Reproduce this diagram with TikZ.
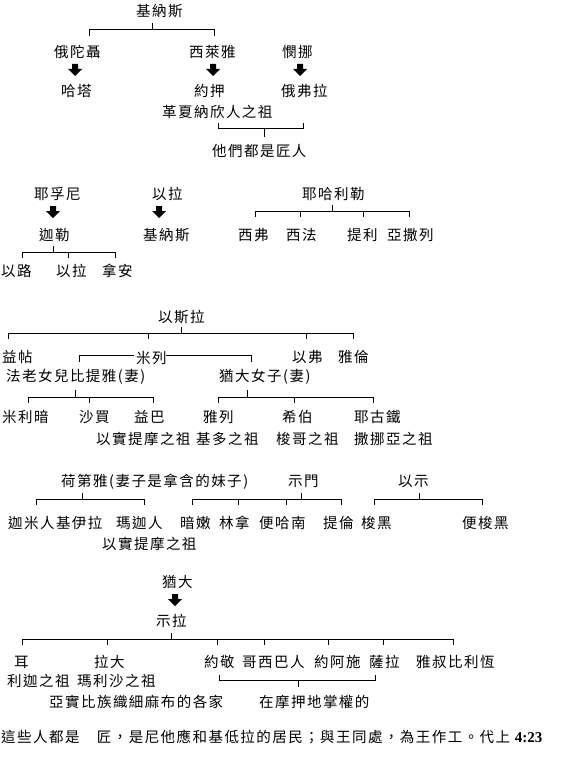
\documentclass[tikz,border=0pt]{standalone}
\usepackage{fontspec}
\newfontfamily\cjkfont[LetterSpace=10]{Noto Sans CJK TC}
\newfontfamily\numfont{Liberation Serif}
\newcommand{\hp}[1]{\makebox[8pt][c]{#1}}
\tikzset{
  t/.style={anchor=base west, inner sep=0pt, font=\cjkfont\fontsize{14.5}{16}\selectfont},
  br/.style={line width=1pt},
  darrow/.pic={\fill (-3,0) -- (3,0) -- (3,5) -- (7,5) -- (0,12) -- (-7,5) -- (-3,5) -- cycle;}
}
\begin{document}
\begin{tikzpicture}[x=1pt,y=-1pt]
\useasboundingbox (0,0) rectangle (575,776);
% ---------- section 1
\node[t] (n1) at (136,16.5) {基納斯};
\node[t] (n2) at (54,57.5) {俄陀聶};
\node[t] (n3) at (189,57.5) {西萊雅};
\node[t] (n4) at (282,57.5) {憫挪};
\node[t] (n5) at (61,96.5) {哈塔};
\node[t] (n6) at (194,96.5) {約押};
\node[t] (n7) at (281,96.5) {俄弗拉};
\node[t] (n8) at (162,117.5) {革夏納欣人之祖};
\node[t] (n9) at (212,156.5) {他們都是匠人};
\draw[br] (152,23) -- (152,30) (89,36) -- (89,30) -- (214,30) -- (214,36);
\pic at (75,64) {darrow};
\pic at (213,64) {darrow};
\pic at (300,64) {darrow};
\draw[br] (218,123) -- (218,128) -- (303,128) -- (303,123) (264,128) -- (264,137);
% ---------- section 2
\node[t] (m1) at (34,199.5) {耶孚尼};
\node[t] (m2) at (152,199.5) {以拉};
\node[t] (m3) at (302,199.5) {耶哈利勒};
\node[t] (m4) at (39,240.5) {迦勒};
\node[t] (m5) at (143,240.5) {基納斯};
\node[t] (m6) at (238,240.5) {西弗};
\node[t] (m7) at (286,240.5) {西法};
\node[t] (m8) at (347,240.5) {提利};
\node[t] (m9) at (387,240.5) {亞撒列};
\node[t] (m10) at (1,276.5) {以路};
\node[t] (m11) at (56,276.5) {以拉};
\node[t] (m12) at (102,276.5) {拿安};
\pic at (53,206) {darrow};
\pic at (159,206) {darrow};
\draw[br] (332,205) -- (332,211) (255,217) -- (255,211) -- (409,211) -- (409,217)
  (300,211) -- (300,217) (363,211) -- (363,217);
\draw[br] (53,246) -- (53,252) (22,258) -- (22,252) -- (115,252) -- (115,258)
  (68,252) -- (68,258);
% ---------- section 3
\node[t] (p1) at (158,322.5) {以斯拉};
\node[t] (p2) at (2,362.5) {益帖};
\node[t] (p3) at (136,363.5) {米列};
\node[t] (p4) at (292,362.5) {以弗};
\node[t] (p5) at (338,362.5) {雅倫};
\node[t] (p6) at (6,381.5) {法老女兒比提雅\hp{(}妻\hp{)}};
\node[t] (p7) at (219,381.5) {猶大女子\hp{(}妻\hp{)}};
\node[t] (p8) at (2,422.5) {米利暗};
\node[t] (p9) at (79,422.5) {沙買};
\node[t] (p10) at (134,422.5) {益巴};
\node[t] (p11) at (96,444.5) {以實提摩之祖};
\node[t] (p12) at (203,422.5) {雅列};
\node[t] (p13) at (282,422.5) {希伯};
\node[t] (p14) at (354,422.5) {耶古鐵};
\node[t] (p15) at (196,444.5) {基多之祖};
\node[t] (p16) at (276,444.5) {梭哥之祖};
\node[t] (p17) at (354,444.5) {撒挪亞之祖};
\draw[br] (181,327) -- (181,333) (8,339) -- (8,333) -- (353,333) -- (353,339)
  (148,333) -- (148,339) (306,333) -- (306,339);
\draw[br] (79,362) -- (79,355) -- (134,355) (166,355) -- (251,355) -- (251,362);
\draw[br] (75,390) -- (75,397) (28,403) -- (28,397) -- (153,397) -- (153,403)
  (89,397) -- (89,403);
\draw[br] (247,390) -- (247,397) (218,403) -- (218,397) -- (373,397) -- (373,403)
  (294,397) -- (294,403);
% ---------- section 4
\node[t] (q1) at (61,486.5) {荷第雅\hp{(}妻子是拿含的妹子\hp{)}};
\node[t] (q2) at (288,486.5) {示門};
\node[t] (q3) at (398,486.5) {以示};
\node[t] (q4) at (8,528.5) {迦米人基伊拉};
\node[t] (q5) at (116,528.5) {瑪迦人};
\node[t] (q6) at (102,549.5) {以實提摩之祖};
\node[t] (q7) at (180,528.5) {暗嫩};
\node[t] (q8) at (219,528.5) {林拿};
\node[t] (q9) at (259,528.5) {便哈南};
\node[t] (q10) at (323,528.5) {提倫};
\node[t] (q11) at (361,528.5) {梭黑};
\node[t] (q12) at (462,528.5) {便梭黑};
\draw[br] (82,493) -- (82,499) (36,505) -- (36,499) -- (144,499) -- (144,505);
\draw[br] (301,493) -- (301,499) (192,505) -- (192,499) -- (341,499) -- (341,505)
  (238,499) -- (238,505) (286,499) -- (286,505);
\draw[br] (419,493) -- (419,499) (374,505) -- (374,499) -- (482,499) -- (482,505);
% ---------- section 5
\node[t] (r1) at (162,587.5) {猶大};
\node[t] (r2) at (156,626.5) {示拉};
\node[t] (r3) at (14,667.5) {耳};
\node[t] (r4) at (94,667.5) {拉大};
\node[t] (r5) at (204,667.5) {約敬};
\node[t] (r6) at (242,667.5) {哥西巴人};
\node[t] (r7) at (314,667.5) {約阿施};
\node[t] (r8) at (369,667.5) {薩拉};
\node[t] (r9) at (416,667.5) {雅叔比利恆};
\node[t] (r10) at (7,686.5) {利迦之祖};
\node[t] (r11) at (77,686.5) {瑪利沙之祖};
\node[t] (r12) at (49,707.5) {亞實比族織細麻布的各家};
\node[t] (r13) at (259,707.5) {在摩押地掌權的};
\pic at (175,594) {darrow};
\draw[br] (171,633) -- (171,639) (22,645) -- (22,639) -- (453,639) -- (453,645)
  (107,639) -- (107,645) (217,639) -- (217,645) (264,639) -- (264,645)
  (328,639) -- (328,645) (383,639) -- (383,645);
\draw[br] (219,675) -- (219,680) -- (375,680) -- (375,675) (298,680) -- (298,687);
% ---------- bottom line
\node[t] (s1) at (1,742.5) {這些人都是　匠，是尼他應和基低拉的居民；與王同處，為王作工。代上 {\numfont\bfseries\fontsize{15}{16}\selectfont 4:23}};
\end{tikzpicture}
\end{document}
